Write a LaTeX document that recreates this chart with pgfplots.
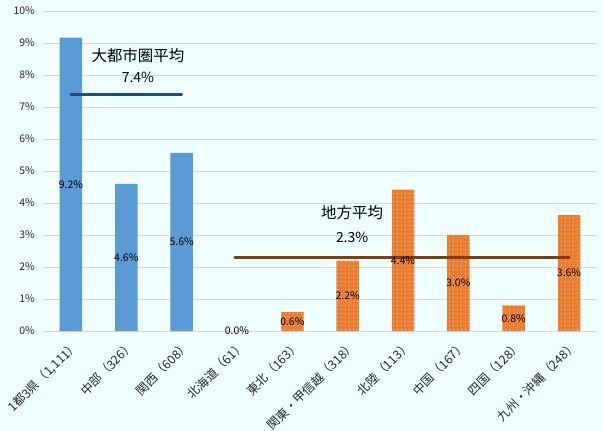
\documentclass[border=0pt]{standalone}
\usepackage{fontspec}
\setmainfont{Noto Sans CJK JP}
\usepackage{pgfplots}
\pgfplotsset{compat=1.18}
\usetikzlibrary{patterns.meta}
\pgfdeclarepattern{
  name=sparsedots,
  type=uncolored,
  bottom left={\pgfpointorigin},
  top right={\pgfpoint{4bp}{4bp}},
  tile size={\pgfpoint{4bp}{4bp}},
  code={\pgfpathcircle{\pgfpoint{2bp}{2bp}}{0.6bp}\pgfusepath{fill}}
}
\definecolor{bgc}{HTML}{F0FFFF}
\definecolor{bluec}{HTML}{5B9BD5}
\definecolor{orangec}{HTML}{ED7D31}
\definecolor{navyc}{HTML}{1F4E79}
\definecolor{brownc}{HTML}{843C0C}
\definecolor{gridc}{HTML}{D9D9D9}
\definecolor{tickc}{HTML}{262626}
\pgfplotsset{
  mybars/.style={ybar, bar width=22.5bp, bar shift=0pt, draw=none,
    visualization depends on={y \as \rawy},
    nodes near coords={\pgfmathprintnumber[fixed,fixed zerofill,precision=1]{\pgfplotspointmeta}\%},
    every node near coord/.append style={font=\fontsize{10.5}{12}\selectfont, text=black, anchor=center, shift={(axis direction cs:0,{-\rawy/2})}}},
}
\begin{document}
\begin{tikzpicture}
\path[use as bounding box, fill=bgc] (-43.3bp,-100bp) rectangle (559.7bp,331bp);
\begin{axis}[
  at={(0,0)}, anchor=south west,
  scale only axis, width=553.4bp, height=320bp,
  xmin=-0.5, xmax=9.5, ymin=0, ymax=10,
  xtick={0,...,9},
  xticklabels={{1都3県（1,111）},{中部（326）},{関西（608）},{北海道（61）},{東北（163）},{関東・甲信越（318）},{北陸（113）},{中国（167）},{四国（128）},{九州・沖縄（248）}},
  ytick={0,1,...,10},
  yticklabel={\pgfmathprintnumber{\tick}\%},
  /pgf/number format/assume math mode=true,
  ymajorgrids, grid style={draw=gridc, line width=0.8bp},
  axis line style={draw=none},
  tick style={draw=none},
  xticklabel style={rotate=45, anchor=east, font=\fontsize{12.3}{14}\selectfont, text=tickc, xshift=-1.5bp, yshift=-13bp},
  yticklabel style={font=\fontsize{10.5}{12}\selectfont, text=tickc, xshift=-5bp},
  clip=false,
]
\addplot[mybars, fill=bluec] coordinates {(0,9.17) (1,4.6) (2,5.57)};
\addplot[mybars, fill=orangec, postaction={pattern={sparsedots}, pattern color=white}] coordinates {(3,0) (4,0.6) (5,2.2) (6,4.42) (7,3.0) (8,0.8) (9,3.62)};
\addplot[sharp plot, no marks, draw=navyc, line width=3bp, line cap=round] coordinates {(0,7.4) (2,7.4)};
\addplot[sharp plot, no marks, draw=brownc, line width=3bp, line cap=round] coordinates {(2.96,2.3) (9,2.3)};
\node[font=\fontsize{15.5}{17}\selectfont] at (axis cs:1.21,8.62) {大都市圏平均};
\node[font=\fontsize{14}{16}\selectfont] at (axis cs:1.21,7.94) {7.4\%};
\node[font=\fontsize{15.5}{17}\selectfont] at (axis cs:5.08,3.69) {地方平均};
\node[font=\fontsize{14}{16}\selectfont] at (axis cs:5.08,2.94) {2.3\%};
\end{axis}
\end{tikzpicture}
\end{document}
